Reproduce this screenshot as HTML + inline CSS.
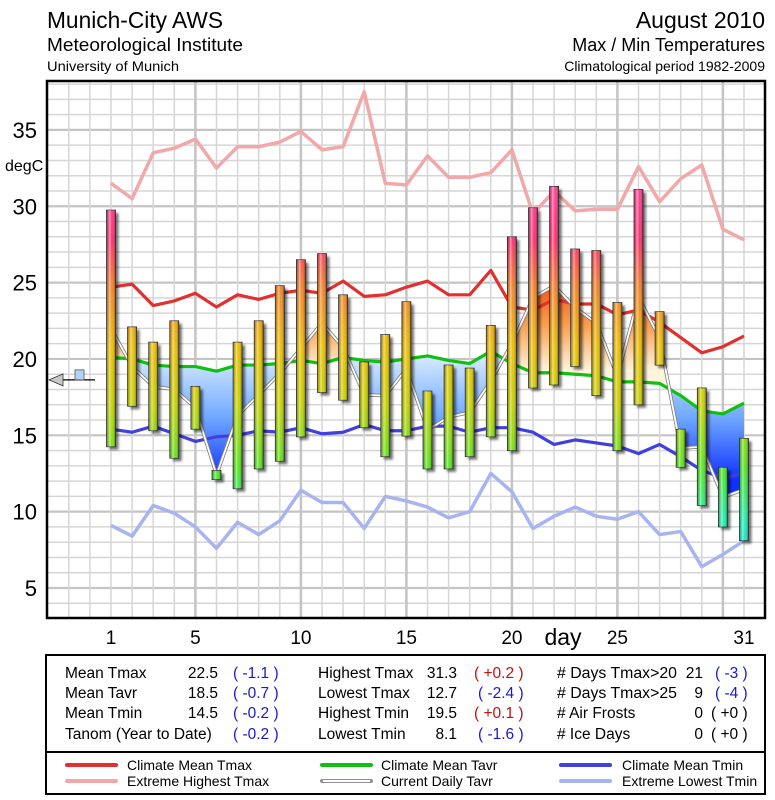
<!DOCTYPE html>
<html><head><meta charset="utf-8">
<style>
html,body{margin:0;padding:0;background:#fff;}
body{width:775px;height:800px;overflow:hidden;position:relative;font-family:"Liberation Sans Narrow","Liberation Sans",sans-serif;}
svg{position:absolute;left:0;top:0;}
text{font-family:"Liberation Sans Narrow","Liberation Sans",sans-serif;}
</style></head>
<body>
<svg id="chart" width="775" height="800" viewBox="0 0 775 800">
<defs>
  <linearGradient id="barGrad" gradientUnits="userSpaceOnUse" x1="0" y1="150" x2="0" y2="560">
    <stop offset="0" stop-color="#ff50b0"/>
    <stop offset="0.22" stop-color="#ff3070"/>
    <stop offset="0.33" stop-color="#f5802a"/>
    <stop offset="0.48" stop-color="#eec000"/>
    <stop offset="0.62" stop-color="#c8d400"/>
    <stop offset="0.78" stop-color="#50e820"/>
    <stop offset="0.9" stop-color="#20f0b0"/>
    <stop offset="1" stop-color="#10d8e0"/>
  </linearGradient>
  <linearGradient id="cyl" x1="0" y1="0" x2="1" y2="0">
    <stop offset="0" stop-color="#000" stop-opacity="0.25"/>
    <stop offset="0.35" stop-color="#fff" stop-opacity="0.45"/>
    <stop offset="0.6" stop-color="#fff" stop-opacity="0"/>
    <stop offset="1" stop-color="#000" stop-opacity="0.45"/>
  </linearGradient>
  <linearGradient id="warmGrad" gradientUnits="userSpaceOnUse" x1="0" y1="280" x2="0" y2="370">
    <stop offset="0" stop-color="#f04a10"/>
    <stop offset="0.5" stop-color="#f8a050"/>
    <stop offset="1" stop-color="#fff4dc"/>
  </linearGradient>
  <linearGradient id="coldGrad" gradientUnits="userSpaceOnUse" x1="0" y1="355" x2="0" y2="480">
    <stop offset="0" stop-color="#d8ecff"/>
    <stop offset="0.5" stop-color="#70a8ff"/>
    <stop offset="1" stop-color="#1030ff"/>
  </linearGradient>
  <filter id="shadow" x="-50%" y="-10%" width="200%" height="130%">
    <feGaussianBlur stdDeviation="1.2"/>
  </filter>
  <clipPath id="plotClip"><rect x="47" y="81" width="718" height="537"/></clipPath>
</defs>

<g>
  <text x="47" y="28" font-size="23" textLength="176" lengthAdjust="spacingAndGlyphs">Munich-City AWS</text>
  <text x="47" y="51" font-size="18" textLength="196" lengthAdjust="spacingAndGlyphs">Meteorological Institute</text>
  <text x="47" y="71" font-size="14" textLength="132" lengthAdjust="spacingAndGlyphs">University of Munich</text>
  <text x="765" y="28" font-size="23" text-anchor="end">August 2010</text>
  <text x="765" y="51" font-size="18" text-anchor="end">Max / Min Temperatures</text>
  <text x="765" y="71" font-size="14" text-anchor="end">Climatological period 1982-2009</text>
</g>

<g id="grid"></g>
<g id="fills" clip-path="url(#plotClip)"></g>
<g id="lines" clip-path="url(#plotClip)"></g>
<g id="bars"></g>
<g id="axes"></g>

<g id="marker"></g>

<g>
  <rect x="46" y="655" width="719" height="97" fill="#fff" stroke="#000" stroke-width="2"/>
  <g font-size="15.5">
    <text x="65" y="678">Mean Tmax</text>
    <text x="65" y="698">Mean Tavr</text>
    <text x="65" y="718">Mean Tmin</text>
    <text x="65" y="739">Tanom (Year to Date)</text>
    <text x="218" y="678" text-anchor="end">22.5</text>
    <text x="218" y="698" text-anchor="end">18.5</text>
    <text x="218" y="718" text-anchor="end">14.5</text>
    <text x="233" y="678" fill="#1a1acc">( -1.1 )</text>
    <text x="233" y="698" fill="#1a1acc">( -0.7 )</text>
    <text x="233" y="718" fill="#1a1acc">( -0.2 )</text>
    <text x="233" y="739" fill="#1a1acc">( -0.2 )</text>

    <text x="318" y="678">Highest Tmax</text>
    <text x="318" y="698">Lowest Tmax</text>
    <text x="318" y="718">Highest Tmin</text>
    <text x="318" y="739">Lowest Tmin</text>
    <text x="457" y="678" text-anchor="end">31.3</text>
    <text x="457" y="698" text-anchor="end">12.7</text>
    <text x="457" y="718" text-anchor="end">19.5</text>
    <text x="457" y="739" text-anchor="end">8.1</text>
    <text x="474" y="678" fill="#c01010">( +0.2 )</text>
    <text x="478" y="698" fill="#1a1acc">( -2.4 )</text>
    <text x="474" y="718" fill="#c01010">( +0.1 )</text>
    <text x="478" y="739" fill="#1a1acc">( -1.6 )</text>

    <text x="557" y="678" textLength="120" lengthAdjust="spacingAndGlyphs"># Days Tmax&gt;20</text>
    <text x="557" y="698" textLength="120" lengthAdjust="spacingAndGlyphs"># Days Tmax&gt;25</text>
    <text x="557" y="718"># Air Frosts</text>
    <text x="557" y="739"># Ice Days</text>
    <text x="703" y="678" text-anchor="end">21</text>
    <text x="703" y="698" text-anchor="end">9</text>
    <text x="703" y="718" text-anchor="end">0</text>
    <text x="703" y="739" text-anchor="end">0</text>
    <text x="715" y="678" fill="#1a1acc">( -3 )</text>
    <text x="715" y="698" fill="#1a1acc">( -4 )</text>
    <text x="711" y="718">( +0 )</text>
    <text x="711" y="739">( +0 )</text>
  </g>
</g>

<g>
  <rect x="46" y="752" width="719" height="42" fill="#fff" stroke="#000" stroke-width="2"/>
  <g stroke-linecap="round" stroke-width="4">
    <line x1="67" y1="765" x2="116" y2="765" stroke="#e03030"/>
    <line x1="67" y1="781" x2="116" y2="781" stroke="#f2a8a8"/>
    <line x1="322" y1="765" x2="371" y2="765" stroke="#10c010"/>
    <line x1="322" y1="781" x2="371" y2="781" stroke="#909090"/>
    <line x1="561" y1="765" x2="610" y2="765" stroke="#4040e0"/>
    <line x1="561" y1="781" x2="610" y2="781" stroke="#a8b4f0"/>
  </g>
  <line x1="323" y1="781" x2="370" y2="781" stroke="#fff" stroke-width="2"/>
  <g font-size="14">
    <text x="127" y="770">Climate Mean Tmax</text>
    <text x="127" y="786">Extreme Highest Tmax</text>
    <text x="381" y="770">Climate Mean Tavr</text>
    <text x="381" y="786">Current Daily Tavr</text>
    <text x="622" y="770">Climate Mean Tmin</text>
    <text x="622" y="786">Extreme Lowest Tmin</text>
  </g>
</g>
</svg>

<script>
const days = [1,2,3,4,5,6,7,8,9,10,11,12,13,14,15,16,17,18,19,20,21,22,23,24,25,26,27,28,29,30,31];
const dailyTmax = [29.75,22.1,21.1,22.5,18.2,12.7,21.1,22.5,24.8,26.5,26.9,24.2,19.8,21.6,23.75,17.9,19.6,19.4,22.2,28.0,29.9,31.3,27.2,27.1,23.7,31.1,23.1,15.4,18.1,12.9,14.8];
const dailyTmin = [14.25,16.9,15.3,13.5,15.4,12.1,11.5,12.8,13.3,14.9,17.8,17.3,15.5,13.6,14.95,12.8,12.8,13.6,14.9,14.0,18.1,18.3,19.5,17.6,14.0,17.0,19.6,12.9,10.4,9.0,8.1];
const climMeanTmax = [24.7,24.9,23.5,23.8,24.3,23.4,24.2,23.9,24.3,24.5,24.3,25.1,24.1,24.2,24.7,25.1,24.2,24.2,25.8,23.4,23.2,23.9,23.6,23.6,22.9,23.2,22.4,21.4,20.4,20.8,21.5];
const climMeanTavr = [20.1,20.0,19.6,19.5,19.5,19.2,19.6,19.6,19.7,19.9,19.7,20.1,19.9,19.8,20.0,20.2,19.9,19.7,20.5,19.7,19.1,19.1,19.0,18.9,18.5,18.5,18.4,17.6,16.6,16.4,17.1];
const climMeanTmin = [15.4,15.2,15.6,15.1,14.6,14.9,15.0,15.3,15.2,15.5,15.1,15.2,15.7,15.3,15.3,15.6,15.6,15.2,15.5,15.5,15.2,14.4,14.7,14.5,14.3,13.8,14.4,13.6,12.7,12.2,12.5];
const extHighTmax = [31.5,30.5,33.5,33.8,34.4,32.5,33.9,33.9,34.2,34.9,33.7,33.9,37.5,31.5,31.4,33.3,31.9,31.9,32.2,33.7,29.5,31.0,29.7,29.8,29.8,32.6,30.3,31.8,32.7,28.5,27.8];
const extLowTmin = [9.1,8.4,10.4,9.9,9.0,7.6,9.3,8.5,9.4,11.4,10.6,10.6,8.9,11.0,10.7,10.3,9.6,10.0,12.5,11.3,8.9,9.7,10.3,9.7,9.5,10.0,8.5,8.7,6.4,7.2,8.1];
const yTicks = [5,10,15,20,25,30,35];
const xTicks = [1,5,10,15,20,25,31];
const tanomValue = 18.5;

const NS = "http://www.w3.org/2000/svg";
const PL = 47, PR = 765, PT = 81, PB = 618;
function xScale(d){ return 111 + (d - 1) * 21.1; }
function yScale(v){ return 588 - (v - 5) * 15.27; }
function mk(tag, attrs, parent){
  const e = document.createElementNS(NS, tag);
  for (const k in attrs) e.setAttribute(k, attrs[k]);
  parent.appendChild(e);
  return e;
}
const tavr = dailyTmax.map((v,i) => (v + dailyTmin[i]) / 2);

const grid = document.getElementById('grid');
mk('rect', {x:PL, y:PT, width:PR-PL, height:PB-PT, fill:'#fff'}, grid);
for (let v = 4; v <= 38; v++){
  const y = yScale(v);
  if (y < PT || y > PB) continue;
  const ln = mk('line', {x1:PL, x2:PR, y1:y, y2:y, stroke: v%5===0 ? '#c4c4c4':'#d6d6d6', 'stroke-width': v%5===0 ? 2.2 : 1.5}, grid);
  
  
}
for (let d = -1; d <= 32; d++){
  const x = xScale(d);
  if (x <= PL || x >= PR) continue;
  const major = d%5===0 && d>0;
  const ln = mk('line', {x1:x, x2:x, y1:PT, y2:PB, stroke: major ? '#c4c4c4':'#d6d6d6', 'stroke-width': major ? 2.5 : 1.5}, grid);
  
  
}

const fills = document.getElementById('fills');
const defs = document.querySelector('defs');
const climPts = days.map((d,i) => xScale(d)+','+yScale(climMeanTavr[i]));
const curPts = days.map((d,i) => xScale(d)+','+yScale(tavr[i]));
const x0 = xScale(days[0]), x1 = xScale(days[days.length-1]);
const cpAbove = mk('clipPath', {id:'aboveClim'}, defs);
mk('polygon', {points: x0+','+PT+' '+climPts.join(' ')+' '+x1+','+PT}, cpAbove);
const cpBelow = mk('clipPath', {id:'belowClim'}, defs);
mk('polygon', {points: x0+','+PB+' '+climPts.join(' ')+' '+x1+','+PB}, cpBelow);
const areaPts = curPts.join(' ') + ' ' + climPts.slice().reverse().join(' ');
const warm = mk('polygon', {points: areaPts, fill:'url(#warmGrad)', 'clip-path':'url(#aboveClim)'}, fills);


const cold = mk('polygon', {points: areaPts, fill:'url(#coldGrad)', 'clip-path':'url(#belowClim)'}, fills);



const lines = document.getElementById('lines');
function series(arr, color, w, name){
  const pts = days.map((d,i) => xScale(d)+','+yScale(arr[i])).join(' ');
  const p = mk('polyline', {points: pts, fill:'none', stroke: color, 'stroke-width': w, 'stroke-linejoin':'round'}, lines);
  
  
  return p;
}
series(extHighTmax, '#f2a8a8', 3.5, 'extreme-highest-tmax-line');
series(extLowTmin, '#a8b4f0', 3.5, 'extreme-lowest-tmin-line');
series(climMeanTmax, '#e03030', 3.2, 'climate-mean-tmax-line');
series(climMeanTmin, '#4040e0', 3.2, 'climate-mean-tmin-line');
series(climMeanTavr, '#10c010', 3.2, 'climate-mean-tavr-line');
series(tavr, '#808080', 3.5, 'current-daily-tavr-outline');
series(tavr, '#ffffff', 1.8, 'current-daily-tavr-line');

const bars = document.getElementById('bars');
const BW = 9;
days.forEach((d,i) => {
  const x = xScale(d) - BW/2;
  const yt = yScale(dailyTmax[i]), yb = yScale(dailyTmin[i]);
  const h = Math.max(yb - yt, 3);
  const g = mk('g', {}, bars);
  
  
  mk('rect', {x:x+3, y:yt+3, width:BW, height:h, fill:'#000', opacity:0.55, filter:'url(#shadow)'}, g);
  mk('rect', {x:x, y:yt, width:BW, height:h, fill:'url(#barGrad)', stroke:'#333', 'stroke-width':0.8}, g);
  mk('rect', {x:x, y:yt, width:BW, height:h, fill:'url(#cyl)'}, g);
});

const axes = document.getElementById('axes');
mk('rect', {x:PL, y:PT, width:PR-PL, height:PB-PT, fill:'none', stroke:'#000', 'stroke-width':2.5}, axes);
yTicks.forEach(v => {
  const t = mk('text', {x:37, y:yScale(v)+8, 'font-size':22, 'text-anchor':'end'}, axes);
  t.textContent = v;
  
  
});
const yl = mk('text', {x:5, y:171, 'font-size':16}, axes);
yl.textContent = 'degC';


xTicks.forEach(d => {
  const t = mk('text', {x:xScale(d), y:644, 'font-size':19, 'text-anchor':'middle'}, axes);
  t.textContent = d;
  
  
});
const xl = mk('text', {x:563, y:645, 'font-size':23, 'text-anchor':'middle'}, axes);
xl.textContent = 'day';



const mg = document.getElementById('marker');
const my = yScale(tanomValue) - 2;
mk('line', {x1:60, x2:95, y1:my, y2:my, stroke:'#000', 'stroke-width':1.2}, mg);
mk('polygon', {points:'49,'+my+' 63,'+(my-6)+' 63,'+(my+6), fill:'#c8c8c8', stroke:'#333', 'stroke-width':0.8}, mg);
mk('rect', {x:75, y:my-10, width:9, height:10, fill:'#b0d4f4', stroke:'#555', 'stroke-width':0.8}, mg);
</script>
</body></html>
